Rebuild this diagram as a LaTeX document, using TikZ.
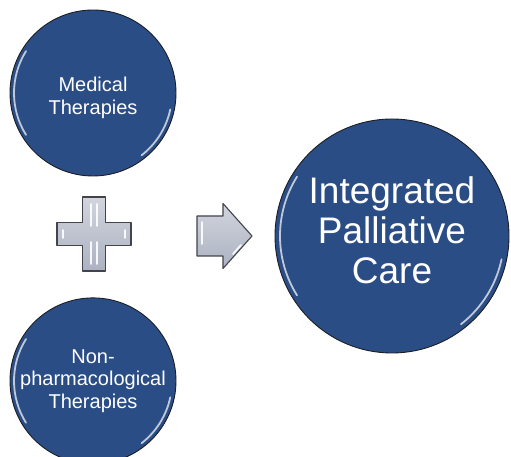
\documentclass[tikz,border=0pt]{standalone}
\usepackage{fontspec}
\setmainfont{Liberation Sans}
\usetikzlibrary{positioning}
\definecolor{pcblue}{RGB}{42,77,133}
\definecolor{pcrim}{RGB}{28,30,36}
\definecolor{pcgray}{RGB}{172,178,194}
\definecolor{pcedge}{RGB}{66,68,74}
\tikzset{
  ball/.style={circle, draw=pcrim, line width=0.9pt, fill=pcblue, inner sep=0pt},
  smallball/.style={ball, minimum size=166pt},
  bigball/.style={ball, minimum size=234pt},
  balltxt/.style={text=white, align=center, inner sep=0pt},
  smalltxt/.style={balltxt, font=\fontsize{20}{22.5}\selectfont},
  bigtxt/.style={balltxt, font=\fontsize{37}{40}\selectfont},
  shine/.style={white, opacity=0.7, line width=1.8pt, line cap=round},
  glyph/.style={draw=pcedge, line width=1.1pt, line join=round,
                top color=pcgray!55!white, bottom color=pcgray},
  glint/.style={white, opacity=0.9, line width=1.8pt, line cap=round},
}

\begin{document}
\begin{tikzpicture}[x=1pt, y=1pt]
  \useasboundingbox (0,0) rectangle (511,457);
  % the three balls
  \node[smallball] (med) at (93,364) {};
  \node[smallball, below=121pt of med] (nonph) {};
  \node[bigball] (ipc) at (392,221) {};
  \node[smalltxt] (medtxt) at ([yshift=-5pt]med.center) {Medical\\Therapies};
  \node[smalltxt] (nonphtxt) at (nonph.center) {Non-\\pharmacological\\Therapies};
  \node[bigtxt] (ipctxt) at ([yshift=6pt]ipc.center) {Integrated\\Palliative\\Care};
  % gloss on the rims
  \foreach \n/\r in {med/79, nonph/79, ipc/112} {
    \draw[shine] (\n.center) ++(148:\r) arc[start angle=148, end angle=212, radius=\r];
    \draw[shine] (\n.center) ++(-12:\r) arc[start angle=-12, end angle=-52, radius=\r];
  }
  % plus
  \begin{scope}[shift={(94,223)}]
    \draw[glyph] (-11.5,37) -- (11.5,37) -- (11.5,11.5) -- (37,11.5) -- (37,-11.5)
      -- (11.5,-11.5) -- (11.5,-37) -- (-11.5,-37) -- (-11.5,-11.5) -- (-37,-11.5)
      -- (-37,11.5) -- (-11.5,11.5) -- cycle;
    \draw[glint] (-3,30) -- (-3,8);  \draw[glint] (3,30) -- (3,8);
    \draw[glint] (-3,-8) -- (-3,-30); \draw[glint] (3,-8) -- (3,-30);
    \draw[glint] (-31,4) -- (-31,-4); \draw[glint] (31,4) -- (31,-4);
  \end{scope}
  % arrow
  \begin{scope}[shift={(197,221)}]
    \draw[glyph] (0,20) -- (26,20) -- (26,32.5) -- (55,0) -- (26,-32.5) -- (26,-20)
      -- (0,-20) -- cycle;
    \draw[glint] (5,14) -- (5,-8);
    \draw[glint] (44,-9) -- (36,-18);
  \end{scope}
\end{tikzpicture}
\end{document}
